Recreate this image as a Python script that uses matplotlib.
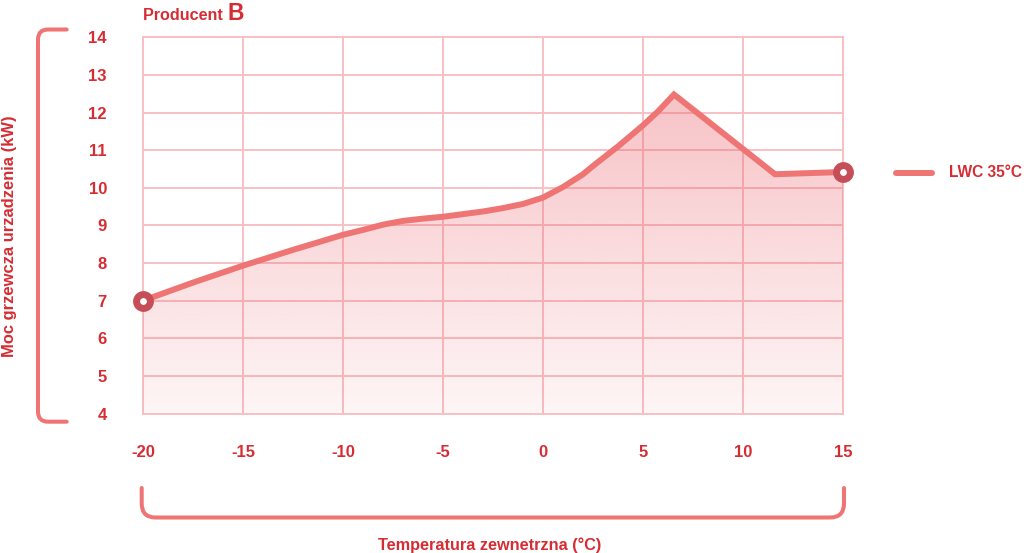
import numpy as np
import matplotlib
matplotlib.use("Agg")
import matplotlib.pyplot as plt
from matplotlib.path import Path
from matplotlib.patches import PathPatch, Polygon
from matplotlib.lines import Line2D

plt.rcParams['font.family'] = ['Liberation Sans', 'DejaVu Sans']
plt.rcParams['font.weight'] = 'bold'

# ---- data ----
temps = [-20, -17.5, -15, -12.5, -10, -9, -8, -7, -6, -5, -4, -3, -2, -1, 0, 1, 2, 2.5, 3.75, 5, 5.75, 6.55, 11.6, 15]
power = [7.0, 7.48, 7.93, 8.35, 8.75, 8.88, 9.02, 9.12, 9.18, 9.23, 9.30, 9.37, 9.46, 9.57, 9.74, 10.02, 10.36, 10.58, 11.10, 11.66, 12.03, 12.48, 10.36, 10.42]
x_ticks = [-20, -15, -10, -5, 0, 5, 10, 15]
y_ticks = [4, 5, 6, 7, 8, 9, 10, 11, 12, 13, 14]
series_name = "LWC 35°C"
title_main = "Producent"
title_letter = "B"
x_label = "Temperatura zewnetrzna (°C)"
y_label = "Moc grzewcza urzadzenia (kW)"

TXT = '#d62c33'
LINE = '#ee7574'
MARK = '#c54e58'
GRID = '#f8c0c4'

W, H = 1024, 553
fig = plt.figure(figsize=(W/100, H/100), dpi=100)
fig.patch.set_facecolor('white')

def fx(x):
    return x / W
def fy(y):
    return 1 - y / H

ax = fig.add_axes([fx(143), fy(413.5), fx(843) - fx(143), fy(37.3) - fy(413.5)])
ax.set_xlim(-20, 15)
ax.set_ylim(4, 14)
ax.set_xticks(x_ticks)
ax.set_yticks(y_ticks)
ax.set_xticklabels([str(v) for v in x_ticks])
ax.set_yticklabels([str(v) for v in y_ticks])
ax.set_axisbelow(True)
ax.grid(True, color=GRID, linewidth=1.4, zorder=0.5)
for s in ax.spines.values():
    s.set_color(GRID)
    s.set_linewidth(1.4)
    s.set_zorder(0.6)
ax.tick_params(axis='both', length=0, colors=TXT, labelsize=12)
ax.tick_params(axis='y', pad=26)
ax.tick_params(axis='x', pad=23)
for lab in ax.get_xticklabels() + ax.get_yticklabels():
    lab.set_fontweight('bold')
    lab.set_color(TXT)

# gradient fill under curve
top = max(power)
grad = np.linspace(0.06, 0.38, 256).reshape(-1, 1)
img = np.zeros((256, 1, 4))
img[..., 0] = 235/255
img[..., 1] = 95/255
img[..., 2] = 105/255
img[..., 3] = grad
im = ax.imshow(img, extent=[-20, 15, 4, top], origin='lower', aspect='auto', zorder=1.5, interpolation='bilinear')
poly = Polygon(list(zip(temps, power)) + [(15, 4), (-20, 4)], closed=True, facecolor='none', edgecolor='none')
ax.add_patch(poly)
im.set_clip_path(poly)
ax.set_xlim(-20, 15)
ax.set_ylim(4, 14)

ax.plot(temps, power, color=LINE, linewidth=4.3, solid_joinstyle='miter', zorder=3)
ax.plot([temps[0], temps[-1]], [power[0], power[-1]], linestyle='none', marker='o',
        markersize=10, markerfacecolor='white', markeredgecolor=MARK, markeredgewidth=5,
        zorder=4, clip_on=False)

# brackets
def bracket(points_codes, lw=2.9):
    verts = [(fx(x), fy(y)) for x, y in points_codes[0]]
    p = Path(verts, points_codes[1])
    patch = PathPatch(p, facecolor='none', edgecolor=LINE, linewidth=lw,
                      transform=fig.transFigure, capstyle='round', joinstyle='round')
    fig.patches.append(patch)

r = 10
lb = [(66.7, 29.5), (38 + r, 29.5), (38, 29.5), (38, 29.5 + r), (38, 421.7 - r), (38, 421.7), (38 + r, 421.7), (66.7, 421.7)]
lc = [Path.MOVETO, Path.LINETO, Path.CURVE3, Path.CURVE3, Path.LINETO, Path.CURVE3, Path.CURVE3, Path.LINETO]
bracket((lb, lc))

r2 = 14
bb = [(141.7, 488), (141.7, 517.5 - r2), (141.7, 517.5), (141.7 + r2, 517.5), (844 - r2, 517.5), (844, 517.5), (844, 517.5 - r2), (844, 488)]
bc = [Path.MOVETO, Path.LINETO, Path.CURVE3, Path.CURVE3, Path.LINETO, Path.CURVE3, Path.CURVE3, Path.LINETO]
bracket((bb, bc))

# axis labels
fig.text(fx(9.5), fy(236), y_label, rotation=90, ha='center', va='center', color=TXT,
         fontsize=11.9, fontweight='bold')
fig.text(fx(490), fy(545), x_label, ha='center', va='center', color=TXT,
         fontsize=11.7, fontweight='bold')

# title
t1 = fig.text(fx(143), fy(19.5), title_main + " ", ha='left', va='baseline', color=TXT,
              fontsize=11.6, fontweight='bold')
fig.canvas.draw()
bb1 = t1.get_window_extent(renderer=fig.canvas.get_renderer())
fig.text(bb1.x1 / W, fy(19.5), title_letter, ha='left', va='baseline', color=TXT,
         fontsize=16.5, fontweight='bold')

# legend
fig.add_artist(Line2D([fx(896), fx(932)], [fy(172.7), fy(172.7)], color=LINE, linewidth=4.3,
                      solid_capstyle='round', transform=fig.transFigure))
fig.text(fx(949), fy(172.7), series_name, ha='left', va='center', color=TXT,
         fontsize=11.2, fontweight='bold')

fig.savefig('out.png', dpi=100, facecolor='white')
